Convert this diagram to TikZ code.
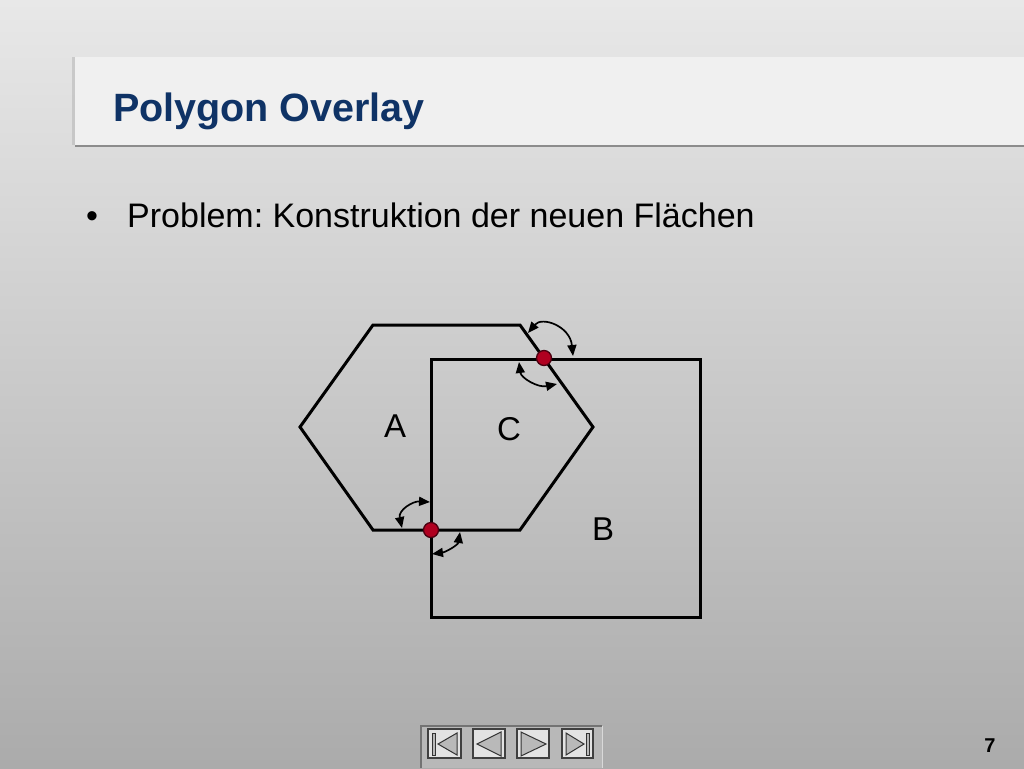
\documentclass[tikz,border=0pt]{standalone}
\usepackage{fontspec}
\setmainfont{Liberation Sans}
\usetikzlibrary{arrows.meta}
\definecolor{titleblue}{HTML}{0F3366}
\definecolor{dotred}{HTML}{B00020}
\definecolor{dotrim}{HTML}{4A0010}
\frenchspacing
\begin{document}
\begin{tikzpicture}[x=1pt,y=-1pt,
  poly/.style={line width=3pt,line join=miter},
  angarrow/.style={line width=1.7pt,{Triangle[length=11pt,width=9pt]}-{Triangle[length=11pt,width=9pt]}},
  ipoint/.style={circle,fill=dotred,draw=dotrim,line width=1.3pt,minimum size=15pt,inner sep=0pt},
  lbl/.style={anchor=base,font=\fontsize{33}{33}\selectfont},
  navbtn/.style={fill=gray!22,draw=black!75,line width=1.2pt},
  navtri/.style={fill=gray!55,draw=black!80,line width=1pt,line join=miter}]
\useasboundingbox (0,0) rectangle (1024,768);
\shade[top color=black!9,bottom color=black!33] (0,0) rectangle (1024,768);
% title band
\fill[black!30,opacity=0.5] (72,57) rectangle (76,145);
\fill[black!6] (75,57) rectangle (1024,145);
\draw[black!45,line width=2.5pt] (75,146) -- (1024,146);
\node[anchor=base west,inner sep=0pt,text=titleblue,font=\fontsize{39.5}{40}\selectfont\bfseries] (title) at (113,121) {Polygon Overlay};
\node[anchor=base west,inner sep=0pt,font=\fontsize{34}{34}\selectfont] (bullet) at (86,227) {•};
\node[anchor=base west,inner sep=0pt,font=\fontsize{34}{34}\selectfont] (btext) at (127,227) {Problem: Konstruktion der neuen Flächen};
% polygons
\coordinate (h1) at (373,325);
\coordinate (h2) at (520,325);
\coordinate (h3) at (593,427);
\coordinate (h4) at (520,530);
\coordinate (h5) at (373,530);
\coordinate (h6) at (300,427);
\draw[poly] (h1) -- (h2) -- (h3) -- (h4) -- (h5) -- (h6) -- cycle;
\coordinate (s1) at (431,359);
\coordinate (s2) at (700,359);
\coordinate (s3) at (700,617);
\coordinate (s4) at (431,617);
\draw[poly] (s1) -- (s2) -- (s3) -- (s4) -- cycle;
% angle arrows
\coordinate (a1) at (528,333); \coordinate (a2) at (573,356);
\coordinate (a3) at (519,362); \coordinate (a4) at (557,384);
\coordinate (a5) at (402,528); \coordinate (a6) at (430,502);
\coordinate (a7) at (432,554); \coordinate (a8) at (460,532);
\draw[angarrow] (a1) .. controls (542,316) and (570,326) .. (a2);
\draw[angarrow] (a3) .. controls (521,378) and (538,388) .. (a4);
\draw[angarrow] (a5) .. controls (398,510) and (413,501) .. (a6);
\draw[angarrow] (a7) .. controls (446,552) and (458,545) .. (a8);
% intersection points
\node[ipoint] (p1) at (544,358) {};
\node[ipoint] (p2) at (431,530) {};
% labels
\node[lbl] (la) at (395,437) {A};
\node[lbl] (lc) at (509,440) {C};
\node[lbl] (lb) at (603,540) {B};
% navigation panel
\fill[black!28] (421,726) rectangle (602,768);
\draw[black!55,line width=1.5pt] (421,768) -- (421,726) -- (602,726);
\draw[black!15,line width=1pt] (602,726) -- (602,768);
\draw[navbtn] (428,729) rectangle (461,758);
\draw[navbtn] (473,729) rectangle (505,758);
\draw[navbtn] (517,729) rectangle (549,758);
\draw[navbtn] (562,729) rectangle (593,758);
\draw[navtri] (432.5,733) rectangle (435.5,755);
\draw[navtri] (438,744) -- (457,733) -- (457,755) -- cycle;
\draw[navtri] (477,744) -- (501,732) -- (501,756) -- cycle;
\draw[navtri] (546,744) -- (521,732) -- (521,756) -- cycle;
\draw[navtri] (584,744) -- (566,733) -- (566,755) -- cycle;
\draw[navtri] (586,733) rectangle (589,755);
\node[anchor=base,inner sep=0pt,font=\fontsize{20}{20}\selectfont\bfseries] (pnum) at (990,752) {7};
\end{tikzpicture}
\end{document}
